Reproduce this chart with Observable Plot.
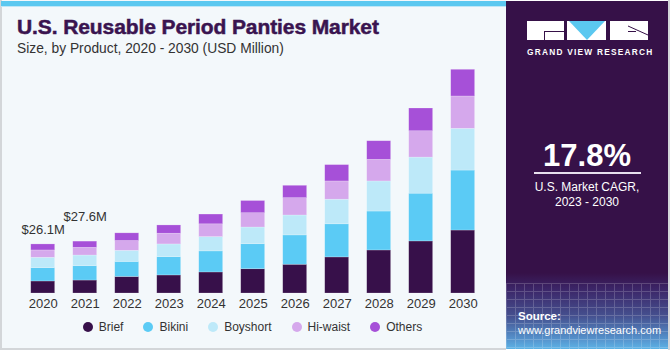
<!DOCTYPE html>
<html>
<head>
<meta charset="utf-8">
<script src="https://cdn.jsdelivr.net/npm/d3@7"></script>
<script src="https://cdn.jsdelivr.net/npm/@observablehq/plot@0.6"></script>
<style>
  html, body { margin: 0; padding: 0; background: #ffffff; }
  body { font-family: "Liberation Sans", Arial, sans-serif; }
  #wrap { position: relative; width: 670px; height: 350px; overflow: hidden; background: #ffffff; }
  #left { position: absolute; left: 0; top: 0; width: 506px; height: 350px; background: #f3f8fb;
          box-sizing: border-box; border-left: 2px solid #d3d6d9; border-bottom: 2px solid #d3d6d9; }
  #stripe { position: absolute; left: 1px; top: 1px; width: 505px; height: 5px; background: #5bc8f0;
            border-bottom: 1px solid #bfe6f7; }
  #chart { position: absolute; left: 0; top: 0; }
  #title { position: absolute; left: 17px; top: 15px; font-size: 21px; font-weight: bold; color: #3a1450;
           -webkit-text-stroke: 0.5px #3a1450; white-space: nowrap; letter-spacing: -0.1px; }
  #subtitle { position: absolute; left: 17px; top: 41px; font-size: 13.8px; color: #333333; white-space: nowrap; }
  #legend { position: absolute; left: 0; width: 505px; top: 320px; display: flex; justify-content: center;
            gap: 20px; font-size: 12px; color: #333333; }
  #legend .item { display: flex; align-items: center; gap: 6px; }
  #legend .sw { width: 10px; height: 10px; border-radius: 50%; display: inline-block; }
  #panel { position: absolute; left: 506px; top: 1px; width: 162px; height: 348px;
           background: linear-gradient(to bottom, #361148 0px, #361148 272px, #3b2466 287px, #45508f 315px, #5592cc 338px, #5cb3e6 348px); overflow: hidden; }
  #grid { position: absolute; left: 0; top: 282px; width: 162px; height: 70px; opacity: 0.18;
          background-image: repeating-linear-gradient(to right, #ffffff 0 1px, transparent 1px 9px),
                            repeating-linear-gradient(to bottom, #ffffff 0 1px, transparent 1px 8px); }
  #edge { position: absolute; left: 668px; top: 0; width: 2px; height: 350px; background: #d3d6d9; }
  .pt { position: absolute; color: #ffffff; white-space: nowrap; }
</style>
</head>
<body>
<div id="wrap">
  <div id="left"></div>
  <div id="stripe"></div>
  <div id="chart"></div>
  <div id="title">U.S. Reusable Period Panties Market</div>
  <div id="subtitle">Size, by Product, 2020 - 2030 (USD Million)</div>
  <div id="legend"></div>
  <div id="panel">
    <div id="grid"></div>
    <svg width="162" height="60" style="position:absolute;left:0;top:0">
      <!-- G -->
      <rect x="21" y="20" width="37" height="19" fill="#ffffff"/>
      <path d="M38 30.5 H58 M38.5 30.5 V39" stroke="#361148" stroke-width="1" fill="none"/>
      <!-- V -->
      <rect x="61" y="20" width="39" height="19" fill="#ffffff"/>
      <polygon points="63,20 99,20 81,39" fill="#5bc8f0"/>
      <!-- R -->
      <rect x="104" y="20" width="38" height="19" fill="#ffffff"/>
      <path d="M122 30.5 H130 M122 25 L142 34" stroke="#361148" stroke-width="1" fill="none"/>
    </svg>
    <div class="pt" style="left:21px;top:46px;font-size:8.3px;font-weight:bold;letter-spacing:1.25px;">GRAND VIEW RESEARCH</div>
    <div class="pt" style="left:0;width:162px;text-align:center;top:137px;font-size:31px;font-weight:bold;">17.8%</div>
    <div style="position:absolute;left:28px;top:171px;width:107px;height:1.5px;background:#e8e0ee;"></div>
    <div class="pt" style="left:0;width:162px;text-align:center;top:179px;font-size:12px;line-height:15px;">U.S. Market CAGR,<br>2023 - 2030</div>
    <div class="pt" style="left:12px;top:309px;font-size:11.5px;font-weight:bold;">Source:</div>
    <div class="pt" style="left:12px;top:323px;font-size:11px;">www.grandviewresearch.com</div>
  </div>
  <div id="edge"></div>
</div>
<script>
// ---- data (USD Million) ----
const years = ["2020","2021","2022","2023","2024","2025","2026","2027","2028","2029","2030"];
const products = ["Brief","Bikini","Boyshort","Hi-waist","Others"];
const brief    = [6.4, 6.9, 8.8, 9.6, 11.2, 12.9, 15.3, 19.2, 22.9, 27.7, 33.5];
const bikini   = [7.1, 7.6, 8.0, 9.7, 11.2, 13.3, 15.6, 17.6, 20.7, 25.4, 31.9];
const boyshort = [5.5, 5.7, 5.9, 6.8, 7.6, 8.9, 10.6, 13.1, 16.0, 19.2, 22.2];
const hiwaist  = [3.9, 4.1, 5.2, 5.7, 6.8, 7.6, 9.2, 9.7, 11.5, 14.0, 17.2];
const others   = [3.2, 3.3, 4.1, 4.4, 5.2, 6.5, 6.6, 8.7, 9.9, 12.1, 14.2];
const valueLabels = ["$26.1M", "$27.6M"];
const colors = ["#37104a", "#5bcbf5", "#bde9f9", "#d5a8ec", "#a650d8"];

const series = [brief, bikini, boyshort, hiwaist, others];
const rows = [];
years.forEach((y, i) => products.forEach((p, j) => rows.push({year: y, product: p, value: series[j][i]})));
const totals = years.map((y, i) => d3.sum(series, s => s[i]));

const font = '"Liberation Sans", Arial, sans-serif';
const chart = Plot.plot({
  width: 505,
  height: 350,
  marginLeft: 12.7,
  marginRight: 12.3,
  marginTop: 67.4,
  marginBottom: 57,
  style: {background: "transparent", fontFamily: font, fontSize: "13px", color: "#333333"},
  x: {domain: years, paddingInner: 0.43, paddingOuter: 0.43, round: false, label: null, tickSize: 0, tickPadding: 5},
  y: {domain: [0, 120], axis: null},
  color: {domain: products, range: colors},
  marks: [
    Plot.barY(rows, {x: "year", y: "value", fill: "product", stroke: "#ffffff", strokeOpacity: 0.35, strokeWidth: 0.6}),
    Plot.text([0], {x: () => years[0], y: () => totals[0], text: () => valueLabels[0],
      lineAnchor: "bottom", dy: -10.7, fontSize: 13, fill: "#333333"}),
    Plot.text([1], {x: () => years[1], y: () => totals[1], text: () => valueLabels[1],
      lineAnchor: "bottom", dy: -20.3, fontSize: 13, fill: "#333333"})
  ]
});
document.getElementById("chart").appendChild(chart);

// legend
const legend = document.getElementById("legend");
products.forEach((p, j) => {
  const it = document.createElement("div");
  it.className = "item";
  const sw = document.createElement("span");
  sw.className = "sw";
  sw.style.background = colors[j];
  const tx = document.createElement("span");
  tx.textContent = p;
  it.appendChild(sw); it.appendChild(tx);
  legend.appendChild(it);
});
</script>
</body>
</html>
